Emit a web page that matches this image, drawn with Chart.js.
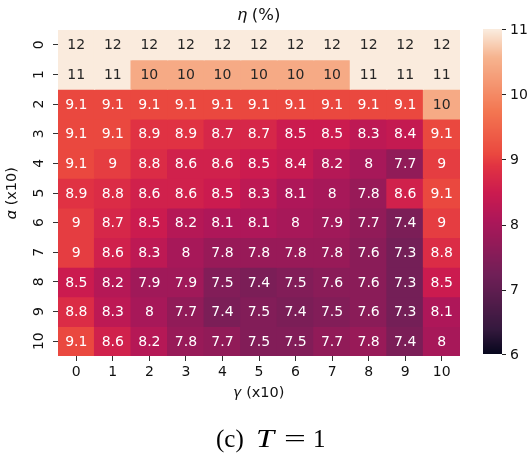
<!DOCTYPE html>
<html lang="en">
<head>
    <meta charset="UTF-8">
    <title>eta heatmap</title>
    <script src="https://cdn.jsdelivr.net/npm/chart.js"></script>
    <style>
        body { margin: 0; background: #fff; }
        #wrap { position: relative; width: 528px; height: 458px; }
        #caption {
            position: absolute; left: 0; top: 426px; width: 528px; height: 30px; line-height: 25px; white-space: nowrap;
            font-family: "Liberation Serif", serif; font-size: 25px; color: #000;
        }
        #caption span, #caption i { position: absolute; top: 0; transform-origin: left; }
    </style>
</head>
<body>
<div id="wrap">
    <canvas id="heat" width="528" height="458"></canvas>
    <div id="caption"><span style="left:216px">(c)</span><i style="left:256px;transform:scaleX(1.3)">T</i><span style="left:284px;transform:scaleX(1.55)">=</span><span style="left:313px">1</span></div>
</div>
<script>
    const gammaLabels = ['0', '1', '2', '3', '4', '5', '6', '7', '8', '9', '10'];
    const alphaTicks = [0, 1, 2, 3, 4, 5, 6, 7, 8, 9, 10];
    const colorbarTicks = [6, 7, 8, 9, 10, 11];

    // rows = alpha (x10), columns = gamma (x10)
    const row0 = [12, 12, 12, 12, 12, 12, 12, 12, 12, 12, 12];
    const row1 = [11, 11, 10.45, 10.45, 10.45, 10.45, 10.45, 10.45, 11, 11, 11];
    const row2 = [9.1, 9.1, 9.1, 9.1, 9.1, 9.1, 9.1, 9.1, 9.1, 9.1, 10.45];
    const row3 = [9.1, 9.1, 8.9, 8.9, 8.7, 8.7, 8.5, 8.5, 8.3, 8.4, 9.1];
    const row4 = [9.1, 9, 8.8, 8.6, 8.6, 8.5, 8.4, 8.2, 8, 7.7, 9];
    const row5 = [8.9, 8.8, 8.6, 8.6, 8.5, 8.3, 8.1, 8, 7.8, 8.6, 9.1];
    const row6 = [9, 8.7, 8.5, 8.2, 8.1, 8.1, 8, 7.9, 7.7, 7.4, 9];
    const row7 = [9, 8.6, 8.3, 8, 7.8, 7.8, 7.8, 7.8, 7.6, 7.3, 8.8];
    const row8 = [8.5, 8.2, 7.9, 7.9, 7.5, 7.4, 7.5, 7.6, 7.6, 7.3, 8.5];
    const row9 = [8.8, 8.3, 8, 7.7, 7.4, 7.5, 7.4, 7.5, 7.6, 7.3, 8.1];
    const row10 = [9.1, 8.6, 8.2, 7.8, 7.7, 7.5, 7.5, 7.7, 7.8, 7.4, 8];
    const rows = [row0, row1, row2, row3, row4, row5, row6, row7, row8, row9, row10];

    const vmin = 6, vmax = 11;
    const FONT = 'DejaVu Sans';
    const FS = 14;

    // seaborn "rocket" colormap, a few stops
    const rocket = [
        [0.0, [3, 5, 26]],
        [1 / 12, [53, 25, 62]],
        [3 / 12, [112, 31, 87]],
        [5 / 12, [173, 23, 89]],
        [0.5, [203, 27, 79]],
        [7 / 12, [225, 51, 66]],
        [0.62, [234, 72, 63]],
        [9 / 12, [243, 118, 81]],
        [11 / 12, [246, 180, 143]],
        [1.0, [250, 235, 221]]
    ];

    function rocketRgb(v) {
        let t = (v - vmin) / (vmax - vmin);
        t = Math.max(0, Math.min(1, t));
        for (let i = 1; i < rocket.length; i++) {
            if (t <= rocket[i][0]) {
                const [t0, c0] = rocket[i - 1];
                const [t1, c1] = rocket[i];
                const f = (t - t0) / (t1 - t0);
                return c0.map((c, k) => Math.round(c + (c1[k] - c) * f));
            }
        }
        return rocket[rocket.length - 1][1];
    }

    function rgbStr(c) { return 'rgb(' + c.join(',') + ')'; }

    function textColorFor(c) {
        const lin = c.map(x => { x /= 255; return x <= 0.03928 ? x / 12.92 : Math.pow((x + 0.055) / 1.055, 2.4); });
        const lum = 0.2126 * lin[0] + 0.7152 * lin[1] + 0.0722 * lin[2];
        return lum > 0.408 ? '#262626' : '#ffffff';
    }

    function fmt(v) { return String(Number(v.toPrecision(2))); }

    const datasets = rows.map((vals, r) => ({
        label: 'alpha ' + r,
        data: vals.map(() => [r - 0.5, r + 0.5]),
        values: vals,
        backgroundColor: vals.map(v => rgbStr(rocketRgb(v))),
        borderWidth: 0,
        inflateAmount: 0.6,
        grouped: false,
        categoryPercentage: 1,
        barPercentage: 1
    }));

    const annotate = {
        id: 'annotate',
        afterDatasetsDraw(chart) {
            const ctx = chart.ctx;
            ctx.save();
            ctx.font = FS + 'px "' + FONT + '"';
            ctx.textAlign = 'center';
            ctx.textBaseline = 'middle';
            chart.data.datasets.forEach((ds, i) => {
                chart.getDatasetMeta(i).data.forEach((bar, j) => {
                    const p = bar.getCenterPoint();
                    ctx.fillStyle = textColorFor(rocketRgb(ds.values[j]));
                    ctx.fillText(fmt(ds.values[j]), p.x, p.y + 1);
                });
            });
            ctx.restore();
        }
    };

    const colorbar = {
        id: 'colorbar',
        afterDraw(chart) {
            const cb = chart.scales.cb;
            const ctx = chart.ctx;
            const x0 = chart.chartArea.right + 23, w = 19;
            const top = cb.getPixelForValue(vmax) - 1, bottom = cb.getPixelForValue(vmin) - 2;
            for (let y = Math.floor(top); y < bottom; y++) {
                const v = cb.getValueForPixel(y + 0.5);
                ctx.fillStyle = rgbStr(rocketRgb(v));
                ctx.fillRect(x0, y, w, 1);
            }
            ctx.save();
            ctx.strokeStyle = '#222';
            ctx.lineWidth = 1;
            ctx.fillStyle = '#111';
            ctx.font = FS + 'px "' + FONT + '"';
            ctx.textAlign = 'left';
            ctx.textBaseline = 'middle';
            colorbarTicks.forEach(t => {
                let y = cb.getPixelForValue(t) - 1;
                if (t === vmin) y -= 1;
                ctx.beginPath();
                ctx.moveTo(x0 + w, Math.round(y) + 0.5);
                ctx.lineTo(x0 + w + 4, Math.round(y) + 0.5);
                ctx.stroke();
                ctx.fillText(String(t), x0 + w + 8, y + 1);
            });
            ctx.restore();
        }
    };

    new Chart(document.getElementById('heat'), {
        type: 'bar',
        data: { labels: gammaLabels, datasets: datasets },
        options: {
            responsive: false,
            animation: false,
            layout: { padding: { left: 0, right: 68, top: 0, bottom: 56 } },
            plugins: {
                legend: { display: false },
                tooltip: { enabled: false },
                title: {
                    display: true,
                    fullSize: false,
                    text: '𝜂 (%)',
                    color: '#111',
                    font: { family: FONT, size: 16.5, weight: 'normal' },
                    padding: { top: 5.6, bottom: 4.6 }
                }
            },
            scales: {
                x: {
                    type: 'category',
                    offset: true,
                    grid: { offset: false, drawOnChartArea: false, drawTicks: true, tickLength: 5, color: '#333' },
                    border: { display: false },
                    ticks: { color: '#111', padding: 3, font: { family: FONT, size: FS } },
                    title: {
                        display: true, text: '𝛾 (x10)', color: '#111',
                        font: { family: FONT, size: 14.5 }, padding: { top: 2, bottom: 0 }
                    },
                    afterFit(s) { s.height = 46; }
                },
                y: {
                    type: 'linear',
                    min: -0.5,
                    max: 10.5,
                    reverse: true,
                    afterBuildTicks(s) { s.ticks = alphaTicks.map(v => ({ value: v })); },
                    grid: { drawOnChartArea: false, drawTicks: true, tickLength: 5, color: '#333' },
                    border: { display: false },
                    ticks: {
                        color: '#111', padding: 5, minRotation: 90, maxRotation: 90, crossAlign: 'center',
                        font: { family: FONT, size: FS }
                    },
                    title: {
                        display: true, text: '𝛼 (x10)', color: '#111',
                        font: { family: FONT, size: 14.5 }, padding: { top: 4, bottom: 0 }
                    },
                    afterFit(s) { s.width = 58; }
                },
                cb: {
                    type: 'linear',
                    axis: 'y',
                    position: 'right',
                    min: vmin,
                    max: vmax,
                    display: false
                }
            }
        },
        plugins: [annotate, colorbar]
    });
</script>
</body>
</html>
